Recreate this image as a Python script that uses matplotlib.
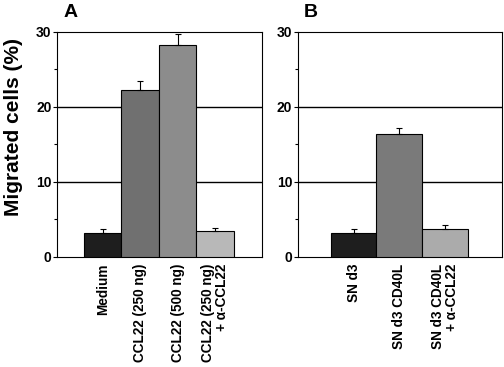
import matplotlib
matplotlib.use("Agg")
import matplotlib.pyplot as plt

plt.rcParams['font.family'] = ['Liberation Sans', 'DejaVu Sans']
plt.rcParams['font.weight'] = 'bold'

# panel A
labels_a = ['Medium', 'CCL22 (250 ng)', 'CCL22 (500 ng)', 'CCL22 (250 ng)\n+ \u03b1-CCL22']
values_a = [3.2, 22.3, 28.2, 3.45]
errors_a = [0.5, 1.2, 1.5, 0.45]
colors_a = ['#1e1e1e', '#707070', '#8c8c8c', '#b8b8b8']

# panel B
labels_b = ['SN d3', 'SN d3 CD40L', 'SN d3 CD40L\n+ \u03b1-CCL22']
values_b = [3.15, 16.35, 3.75]
errors_b = [0.55, 0.85, 0.5]
colors_b = ['#1e1e1e', '#7a7a7a', '#ababab']

fig = plt.figure(figsize=(5.04, 3.67), dpi=100)
ax_a = fig.add_axes([0.113, 0.30, 0.407, 0.613])
ax_b = fig.add_axes([0.591, 0.30, 0.405, 0.613])


def draw_panel(ax, labels, values, errors, colors, xlim, letter, lx):
    x = list(range(len(values)))
    ax.bar(x, values, width=1.0, color=colors, edgecolor='black', linewidth=0.8, zorder=3)
    ax.errorbar(x, values, yerr=[[0] * len(errors), errors], fmt='none',
                ecolor='black', elinewidth=0.8, capsize=2.5, capthick=0.8, zorder=4)
    ax.set_xlim(*xlim)
    ax.set_ylim(0, 30)
    ax.set_yticks([0, 10, 20, 30])
    ax.set_yticks([5, 15, 25], minor=True)
    for y in [10, 20]:
        ax.axhline(y, color='black', linewidth=1.0, zorder=1)
    ax.set_xticks(x)
    ax.set_xticklabels(labels, rotation=90, ha='center', va='top',
                       multialignment='right', fontsize=9.8, fontweight='bold',
                       linespacing=0.95)
    ax.tick_params(axis='x', length=0, pad=5)
    ax.tick_params(axis='y', which='major', length=3, width=0.8, pad=1, labelsize=10)
    ax.tick_params(axis='y', which='minor', length=2, width=0.8)
    for s in ax.spines.values():
        s.set_linewidth(0.8)
    ax.text(lx, 1.05, letter, transform=ax.transAxes, fontsize=14, fontweight='bold',
            ha='left', va='bottom')


draw_panel(ax_a, labels_a, values_a, errors_a, colors_a, (-1.22, 4.25), 'A', 0.03)
draw_panel(ax_b, labels_b, values_b, errors_b, colors_b, (-1.22, 3.25), 'B', 0.03)

ax_a.set_ylabel('Migrated cells (%)', fontsize=15, fontweight='bold')
ax_a.yaxis.set_label_coords(-0.166, 0.576)

fig.savefig('out.png', dpi=100)
